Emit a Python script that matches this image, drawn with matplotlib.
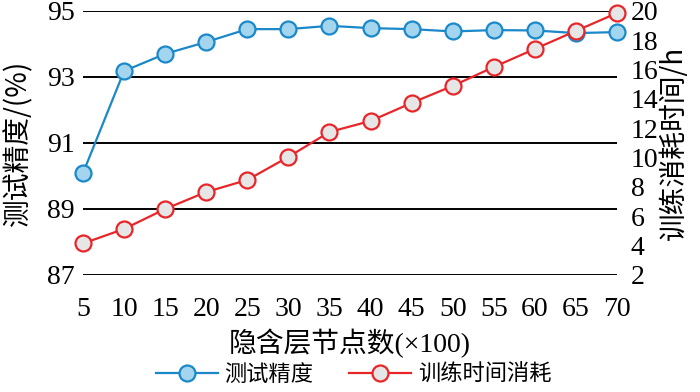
import numpy as np
import matplotlib.pyplot as plt

plt.rcParams['font.family'] = ['Liberation Serif', 'Noto Sans CJK SC']

nodes = [5, 10, 15, 20, 25, 30, 35, 40, 45, 50, 55, 60, 65, 70]
accuracy = [90.09, 93.18, 93.7, 94.06, 94.45, 94.45, 94.55, 94.48, 94.45, 94.38, 94.42, 94.41, 94.33, 94.36]
train_time = [4.15, 5.14, 6.5, 7.66, 8.48, 10.05, 11.75, 12.5, 13.73, 14.89, 16.18, 17.41, 18.64, 19.86]

blue_edge = '#1a88c9'
blue_face = '#a3d5ef'
red_edge = '#e8262a'
red_face = '#e6e6e6'

fig = plt.figure(figsize=(7, 3.92), dpi=100)
ax = fig.add_axes([0.1186, 0.2985, 0.7628, 0.6735])
ax2 = ax.twinx()

l1, = ax.plot(nodes, accuracy, color=blue_edge, lw=1.6, marker='o', ms=11.5,
              mfc=blue_face, mec=blue_edge, mew=1.6, clip_on=False, zorder=3)
l2, = ax2.plot(nodes, train_time, color=red_edge, lw=1.6, marker='o', ms=11.5,
               mfc=red_face, mec=red_edge, mew=1.6, clip_on=False, zorder=3)

ax.set_xlim(5, 70)
ax.set_ylim(87, 95)
ax2.set_ylim(2, 20)
ax.set_xticks(nodes)
ax.set_yticks([87, 89, 91, 93, 95])
ax2.set_yticks(np.arange(2, 21, 2))
ax.grid(axis='y', color='black', lw=1.4)
ax.set_axisbelow(True)

for a in (ax, ax2):
    for s in a.spines.values():
        s.set_visible(False)
    a.tick_params(length=0, labelsize=20, pad=6)
ax.tick_params(axis='x', pad=16)
ax2.tick_params(pad=10)

ax.set_ylabel('测试精度/(%)', fontsize=20, family=['Noto Sans CJK SC'], labelpad=10)
ax2.set_ylabel('训练消耗时间/h', fontsize=20, family=['Noto Sans CJK SC'], labelpad=0)
ax.set_xlabel('隐含层节点数(×100)', fontsize=20, labelpad=5)

fig.legend([l1, l2], ['测试精度', '训练时间消耗'], loc='lower center',
           bbox_to_anchor=(0.505, -0.035), ncol=2, frameon=False,
           prop={'family': 'Noto Sans CJK SC', 'size': 16},
           handlelength=2.8, handletextpad=0.3, columnspacing=1.6)

fig.savefig('out.png', dpi=100)
